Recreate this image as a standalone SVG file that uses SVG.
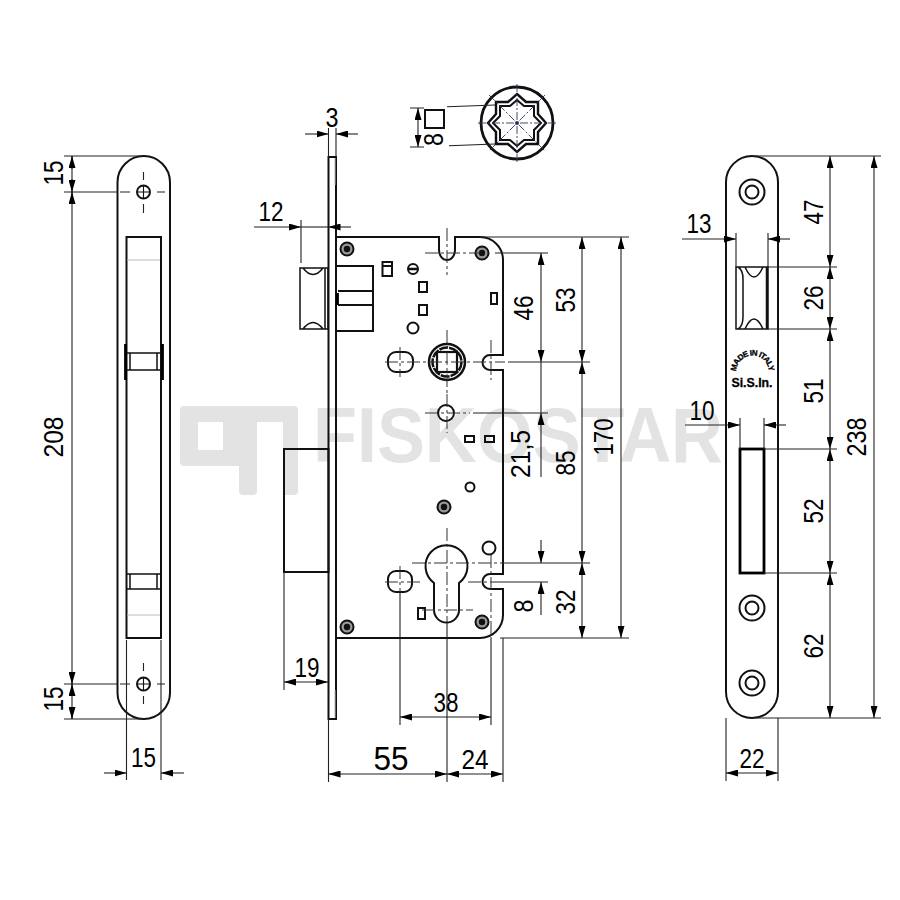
<svg xmlns="http://www.w3.org/2000/svg" width="900" height="900" viewBox="0 0 900 900">
<defs>
<marker id="a" viewBox="0 0 12 7" refX="12" refY="3.5" markerWidth="12" markerHeight="7" markerUnits="userSpaceOnUse" orient="auto-start-reverse"><path d="M0 0L12 3.500L0 7z" fill="#000"/></marker>
</defs>
<style>
.o{fill:none;stroke:#111;stroke-width:2}
.n{fill:none;stroke:#111;stroke-width:1.5}
.t{fill:none;stroke:#000;stroke-width:2.8}
.f{fill:none;stroke:#111;stroke-width:1.1}
.g{fill:none;stroke:#bbb;stroke-width:1}
.d{fill:none;stroke:#222;stroke-width:1.1}
.m{marker-end:url(#a)}
.b{marker-start:url(#a);marker-end:url(#a)}
.c{fill:none;stroke:#333;stroke-width:1;stroke-dasharray:13 3 3 3}
.u{fill:none;stroke:#336;stroke-width:.9;stroke-dasharray:8 2 2 2}
.s{fill:#999;stroke:#111;stroke-width:2}
.h{fill:#111}
text{font-family:"Liberation Sans",Arial,sans-serif;fill:#000}
.l{font-size:27px;text-anchor:middle}
.w{font-size:78px;font-weight:bold;fill:#e3e3e3}
.k{font-size:8px;font-weight:bold;text-anchor:middle;stroke:#000;stroke-width:.3}
</style>
<g id="watermark">
<path fill="#e3e3e3" fill-rule="evenodd" d="M184 406H294Q298 406 298 410V491Q298 495 294 495H287Q283 495 283 491V422H257V491Q257 495 253 495H243Q239 495 239 491V466H184Q180 466 180 462V410Q180 406 184 406ZM198 422V450H223V422Z"/>
<text class="w" x="313" y="462" textLength="410" lengthAdjust="spacingAndGlyphs">FISKOSTAR</text>
</g>
<g id="left-plate">
<rect class="o" x="117.500" y="156" width="52.500" height="563" rx="26.200"/>
<rect class="o" x="126.500" y="237" width="34.500" height="401"/>
<path class="g" d="M127 260H160M127 615H160"/>
<path class="t" d="M125.500 344V380M162.500 344V380"/>
<path class="n" d="M127 353H161M127 370H161M127 574H161M127 589H161M130 353V370M157 353V370M130 574V589M157 574V589"/>
<circle class="o" cx="143.500" cy="192" r="6.500"/><circle class="o" cx="143.500" cy="684" r="6.500"/>
<path class="f" d="M137 192H150M143.500 185.500V198.500M137 684H150M143.500 677.500V690.500"/>
<path class="d" d="M120 192H130M157 192H165M143.500 172V180M143.500 204V213M120 684H130M157 684H165M143.500 663V671M143.500 696V704"/>
</g>
<g id="lock-body">
<path class="o" d="M328.500 157H336V719H328.500Z"/>
<path class="g" d="M335 158V185M335 690V718"/>
<path class="o" d="M336 237H439V250A8 10 0 0 0 455 250V237H480A23 23 0 0 1 503 260V355H490A7.500 7.500 0 0 0 490 370H503V574H490A7.500 7.500 0 0 0 490 589H503V615A23 23 0 0 1 480 638H336"/>
<rect class="o" x="284" y="449" width="44.500" height="123"/>
<path class="n" d="M300 268H328V329H300ZM325 268V329M303 268Q313 281 323 268M303 329Q313 316 323 329"/>
<path class="o" d="M336 266H373V331H336M338 291H373M338 305H373"/>
<path class="t" d="M337.500 293V305"/>
<g class="o">
<rect x="382.500" y="262" width="9.500" height="14"/><path d="M382.500 266H392"/>
<rect x="419" y="282" width="8" height="10"/><rect x="419" y="305" width="8" height="10"/>
<rect x="491" y="293" width="6" height="11"/>
<circle cx="413" cy="269" r="5"/><path d="M408 269H418" stroke-width="2.500"/>
<circle cx="413" cy="328" r="5.500"/>
<rect x="388" y="352" width="25" height="20" rx="8"/>
<rect x="388" y="571" width="24" height="21" rx="8"/>
<circle cx="446" cy="413" r="8"/>
<rect x="465" y="436" width="9" height="6"/><rect x="485" y="436" width="9" height="6"/>
<circle cx="470" cy="487" r="4.500"/><circle cx="489" cy="548" r="6.500"/>
<rect x="418" y="608" width="7" height="11"/>
<path d="M434 583A21 21 0 1 1 459 583V610A12.500 12.500 0 0 1 434 610Z"/>
<circle cx="447" cy="362" r="18" stroke-width="2.500"/>
<circle cx="447" cy="362" r="14.500" stroke-width="2.500" stroke-dasharray="9 1"/>
<rect x="437" y="352" width="20" height="20" stroke-width="2.200"/>
</g>
<g id="screws">
<g class="s"><circle cx="347" cy="249" r="6.500"/><circle cx="482" cy="253" r="6.500"/><circle cx="347" cy="627" r="6.500"/><circle cx="482" cy="622" r="6.500"/><circle cx="444" cy="507" r="6.500"/></g>
<g class="h"><circle cx="347" cy="249" r="3.200"/><circle cx="482" cy="253" r="3.200"/><circle cx="347" cy="627" r="3.200"/><circle cx="482" cy="622" r="3.200"/><circle cx="444" cy="507" r="3.200"/></g>
</g>
</g>
<g id="spindle-detail">
<circle cx="517" cy="123" r="36" fill="none" stroke="#111" stroke-width="2.800"/>
<path class="o" style="stroke-width:2.400" d="M517 94L526 102H538V114L546 123L538 132V144H526L517 152L508 144H496V132L488 123L496 114V102H508Z"/>
<path class="o" d="M517 100L524 106H534V116L541 123L534 130V140H524L517 146L510 140H500V130L493 123L500 116V106H510Z"/>
<path class="u" d="M517 84V163M478 123H557M489 95L545 151M545 95L489 151"/>
<circle cx="517" cy="123" r="2" fill="#336"/>
<rect class="o" x="425" y="110" width="19" height="18"/>
<text class="l" transform="translate(443 139.500) rotate(-90)" textLength="13" lengthAdjust="spacingAndGlyphs">8</text>
</g>
<g id="right-plate">
<rect class="o" x="726" y="156" width="52" height="562" rx="26"/>
<rect class="t" x="740" y="449" width="24" height="124"/>
<g class="o"><circle cx="752" cy="192" r="12.500"/><circle cx="752" cy="192" r="6.500"/><circle cx="752" cy="608" r="12.500"/><circle cx="752" cy="608" r="6.500"/><circle cx="752" cy="683" r="12.500"/><circle cx="752" cy="683" r="6.500"/></g>
<path class="n" d="M736 267H768V329H736ZM766.500 267V329M738 267Q743 270 743 279V317Q743 326 738 329M745 267Q754 287 763 267M745 329Q754 309 763 329"/>
<path id="arc" fill="none" d="M736 373A16.500 17.500 0 0 1 769 373"/>
<text class="k"><textPath href="#arc" startOffset="50%" textLength="50">MADE IN ITALY</textPath></text>
<text class="k" x="752" y="387" style="font-size:12px" textLength="41" lengthAdjust="spacingAndGlyphs">Si.S.In.</text>
</g>
<g id="connectors">
<path class="d" d="M64 156H143M64 192H117M64 684H117M64 719H143M72 156V192M72 192V684M72 684V719M126.500 640V780M161 640V780"/>
<path class="d m" d="M72 169V156"/><path class="d m" d="M72 179V192"/><path class="d m" d="M72 204V192"/><path class="d m" d="M72 672V684"/><path class="d m" d="M72 696V684"/><path class="d m" d="M72 708V719"/>
<path class="d m" d="M104 773H126.500"/><path class="d m" d="M184 773H161"/>
<path class="d" d="M328.500 128V157M336 128V157M301 220V263M284 572V690M328.500 719V782M400 592V725M491 638V725M447 622V782M503 638V782"/>
<path class="d m" d="M305 134H328.500"/><path class="d m" d="M358 134H336"/>
<path class="d m" d="M254 227H301"/><path class="d m" d="M351 227H328.500"/><path class="d" d="M301 227H328"/>
<path class="d b" d="M284 682H328"/><path class="d b" d="M400 717H491"/><path class="d b" d="M328.500 774H447"/><path class="d b" d="M447 774H503"/>
<path class="d" d="M480 237H629M495 253H548M508 362H590M473 413H548M503 563H590M491 582H548M500 638H629"/>
<path class="d b" d="M541 253V362"/><path class="d m" d="M541 477V413"/><path class="d" d="M541 362V413"/>
<path class="d m" d="M541 540V563"/><path class="d m" d="M541 615V582"/>
<path class="d b" d="M582 237V362"/><path class="d b" d="M582 362V563"/><path class="d b" d="M582 563V638"/><path class="d b" d="M621 237V638"/>
<path class="c" d="M447 228V275M425 253H480M385 362H505M447 330V395M491 340V380M400 347V377M425 413H470M447 394V433M412 563H503M447 528V622M385 582H420M468 582H491M422 610H473M491 555V638M400 566V592"/>
<path class="d" d="M447 106.700L495 105M449 145.700L495 144M410 108H424M410 147H424"/>
<path class="d b" d="M418 108V147"/>
<path class="d" d="M752 156H881M768 267H837M768 329H837M764 449H837M764 573H837M752 718H881M736 233V267M768 233V267M740 418V449M764 418V449M726 718V781M778 718V781"/>
<path class="d b" d="M830 156V267"/><path class="d b" d="M830 267V329"/><path class="d b" d="M830 329V449"/><path class="d b" d="M830 449V573"/><path class="d b" d="M830 573V718"/><path class="d b" d="M874 156V718"/>
<path class="d m" d="M682 239H736"/><path class="d m" d="M790 239H768"/>
<path class="d m" d="M685 425H740"/><path class="d m" d="M786 425H764"/>
<path class="d b" d="M726 773H778"/>
</g>
<g id="labels">
<text class="l" x="143.500" y="767" textLength="25" lengthAdjust="spacingAndGlyphs">15</text>
<text class="l" transform="translate(63 173) rotate(-90)" textLength="25" lengthAdjust="spacingAndGlyphs">15</text>
<text class="l" transform="translate(63 437) rotate(-90)" textLength="41" lengthAdjust="spacingAndGlyphs">208</text>
<text class="l" transform="translate(63 699) rotate(-90)" textLength="25" lengthAdjust="spacingAndGlyphs">15</text>
<text class="l" x="332" y="127" textLength="13" lengthAdjust="spacingAndGlyphs">3</text>
<text class="l" x="271" y="221" textLength="25" lengthAdjust="spacingAndGlyphs">12</text>
<text class="l" x="307" y="677" textLength="25" lengthAdjust="spacingAndGlyphs">19</text>
<text class="l" x="446" y="712" textLength="25" lengthAdjust="spacingAndGlyphs">38</text>
<text class="l" x="391" y="770" style="font-size:33px" textLength="35" lengthAdjust="spacingAndGlyphs">55</text>
<text class="l" x="475" y="769" textLength="27" lengthAdjust="spacingAndGlyphs">24</text>
<text class="l" transform="translate(533 308) rotate(-90)" textLength="25" lengthAdjust="spacingAndGlyphs">46</text>
<text class="l" transform="translate(575 300) rotate(-90)" textLength="25" lengthAdjust="spacingAndGlyphs">53</text>
<text class="l" transform="translate(613 437) rotate(-90)" textLength="37" lengthAdjust="spacingAndGlyphs">170</text>
<text class="l" transform="translate(530 454) rotate(-90)" textLength="48" lengthAdjust="spacingAndGlyphs">21,5</text>
<text class="l" transform="translate(575 463) rotate(-90)" textLength="25" lengthAdjust="spacingAndGlyphs">85</text>
<text class="l" transform="translate(533 606) rotate(-90)" textLength="13" lengthAdjust="spacingAndGlyphs">8</text>
<text class="l" transform="translate(575 602) rotate(-90)" textLength="25" lengthAdjust="spacingAndGlyphs">32</text>
<text class="l" x="699" y="233" textLength="25" lengthAdjust="spacingAndGlyphs">13</text>
<text class="l" x="702" y="420" textLength="25" lengthAdjust="spacingAndGlyphs">10</text>
<text class="l" x="752" y="768" textLength="25" lengthAdjust="spacingAndGlyphs">22</text>
<text class="l" transform="translate(823 212) rotate(-90)" textLength="25" lengthAdjust="spacingAndGlyphs">47</text>
<text class="l" transform="translate(823 298) rotate(-90)" textLength="25" lengthAdjust="spacingAndGlyphs">26</text>
<text class="l" transform="translate(823 391) rotate(-90)" textLength="25" lengthAdjust="spacingAndGlyphs">51</text>
<text class="l" transform="translate(823 511) rotate(-90)" textLength="25" lengthAdjust="spacingAndGlyphs">52</text>
<text class="l" transform="translate(823 646) rotate(-90)" textLength="25" lengthAdjust="spacingAndGlyphs">62</text>
<text class="l" transform="translate(866 437) rotate(-90)" textLength="39" lengthAdjust="spacingAndGlyphs">238</text>
</g>
</svg>
